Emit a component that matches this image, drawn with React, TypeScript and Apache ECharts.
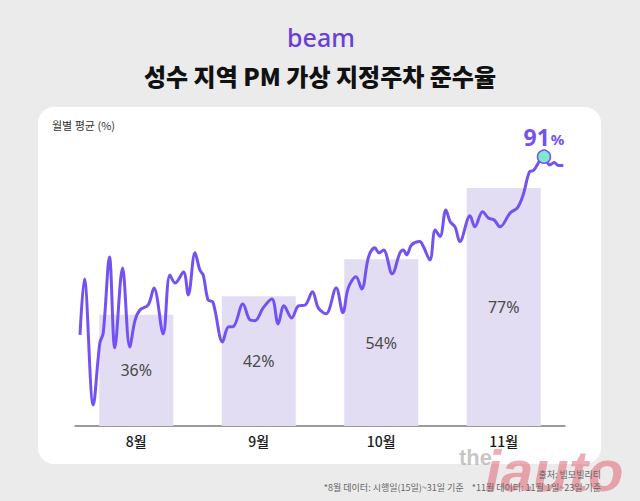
import React, { useEffect, useRef } from "react";
import * as echarts from "echarts";

const months = ["8월", "9월", "10월", "11월"];
const monthlyAvg = [36, 42, 54, 77];

// daily compliance (day index from Aug 15 = 0 to Nov 23 = 100)
const lineDays = [
  0, 0.9, 2.75, 4.1, 4.8, 6.1, 7.2, 8.8, 10.3, 11.4, 12.4, 14.1, 15.3, 17.2, 18.6, 19.7,
  21.4, 22.4, 23.8, 24.8, 25.5, 26.5, 27.5, 29.5, 30.7, 31.7, 33.7, 35.2, 36.2, 37.9,
  39.7, 41.0, 42.2, 43.8, 45.2, 46.6, 48.1, 49.3, 50.9, 53.0, 54.4, 55.5, 57.1, 58.3,
  59.7, 61.0, 61.9, 62.8, 64.6, 66.2, 66.9, 67.6, 68.6, 70.3, 71.0, 72.4, 73.5, 74.5,
  75.7, 76.6, 77.6, 78.6, 80.7, 81.7, 83.3, 84.5, 85.7, 86.9, 89.0, 90.5, 91.7, 93.0,
  93.8, 96.0, 97.2, 98.1, 99.0, 100,
];
const lineValues = [
  30.8, 49.7, 7.1, 28.0, 31.4, 57.1, 26.4, 53.4, 26.7, 35.8, 39.2, 40.9, 46.6, 31.1, 51.0, 48.3,
  52.0, 44.3, 58.5, 52.7, 51.0, 42.6, 41.9, 28.4, 33.5, 33.6, 41.2, 35.8, 35.6, 39.9,
  42.9, 34.5, 40.6, 36.5, 40.6, 40.9, 45.4, 39.9, 37.9, 46.6, 38.3, 46.6, 50.4, 46.3,
  57.1, 60.2, 58.5, 59.5, 51.4, 58.5, 59.5, 57.8, 61.2, 62.3, 60.8, 56.1, 66.2, 64.0,
  73.0, 69.0, 67.3, 62.3, 71.0, 67.3, 72.4, 70.3, 69.6, 67.3, 72.0, 73.7, 78.1, 85.9,
  86.3, 91.0, 88.2, 89.0, 88.0, 88.0,
];

const titleText = "성수 지역 PM 가상 지정주차 준수율";
const unitText = "월별 평균 (%)";
const sourceText = "출처: 빔모빌리티";
const noteText = "*8월 데이터: 시행일(15일)~31일 기준    *11월 데이터: 11월 1일~23일 기준";

const KR = '"Noto Sans CJK KR", "Noto Sans", sans-serif';

export default function App() {
  const ref = useRef<HTMLDivElement>(null);
  useEffect(() => {
    if (!ref.current) return;
    const chart = echarts.init(ref.current, null, { renderer: "svg" });
    const lineData = lineDays.map((d, i) => [d, lineValues[i]]);
    chart.setOption({
      animation: false,
      backgroundColor: "#ebebeb",
      textStyle: { fontFamily: KR },
      graphic: [
        {
          type: "rect",
          z: -10,
          shape: { x: 38, y: 107, width: 563, height: 357, r: 16 },
          style: { fill: "#ffffff" },
        },
        {
          type: "text",
          x: 321,
          y: 37,
          style: {
            text: "beam",
            fontSize: 25,
            fontWeight: 500,
            fontFamily: '"Noto Sans", sans-serif',
            fill: "#6a3fd9",
            textAlign: "center",
            textVerticalAlign: "middle",
          },
        },
        {
          type: "text",
          x: 320,
          y: 75,
          style: {
            text: titleText,
            fontSize: 24,
            fontWeight: 900,
            fontFamily: KR,
            fill: "#111111",
            textAlign: "center",
            textVerticalAlign: "middle",
          },
        },
        {
          type: "text",
          x: 52,
          y: 125,
          style: {
            text: unitText,
            fontSize: 11,
            fontFamily: KR,
            fill: "#333333",
            textAlign: "left",
            textVerticalAlign: "middle",
          },
        },
        {
          type: "text",
          x: 459,
          y: 457,
          z: 50,
          style: {
            text: "the",
            fontSize: 22,
            fontWeight: "bold",
            fontFamily: '"Liberation Sans", sans-serif',
            fill: "rgba(150,150,150,0.55)",
            textAlign: "left",
            textVerticalAlign: "middle",
          },
        },
        {
          type: "text",
          x: 485,
          y: 470,
          z: 50,
          style: {
            text: "iauto",
            fontSize: 58,
            fontWeight: "bold",
            fontStyle: "italic",
            fontFamily: '"Liberation Sans", sans-serif',
            fill: "rgba(226,90,105,0.5)",
            textAlign: "left",
            textVerticalAlign: "middle",
          },
        },
        {
          type: "text",
          x: 601,
          y: 474,
          z: 60,
          style: {
            text: sourceText,
            fontSize: 9,
            fontFamily: KR,
            fill: "#666666",
            textAlign: "right",
            textVerticalAlign: "middle",
          },
        },
        {
          type: "text",
          x: 601,
          y: 487,
          z: 60,
          style: {
            text: noteText,
            fontSize: 9,
            fontFamily: KR,
            fill: "#666666",
            textAlign: "right",
            textVerticalAlign: "middle",
          },
        },
      ],
      grid: [
        { left: 75, right: 75, top: 117, bottom: 75 },
        { left: 80, right: 76.7, top: 117, bottom: 75 },
      ],
      xAxis: [
        {
          type: "category",
          gridIndex: 0,
          data: months,
          axisLine: { lineStyle: { color: "#7a7a7a", width: 1.5 } },
          axisTick: { show: false },
          axisLabel: {
            fontSize: 14,
            fontWeight: 500,
            color: "#1a1a1a",
            margin: 8,
            fontFamily: KR,
          },
        },
        { type: "value", gridIndex: 1, min: 0, max: 100, show: false },
      ],
      yAxis: [
        { type: "value", gridIndex: 0, min: 0, max: 100, show: false, splitLine: { show: false } },
        { type: "value", gridIndex: 1, min: 0, max: 104.4, show: false, splitLine: { show: false } },
      ],
      series: [
        {
          type: "bar",
          xAxisIndex: 0,
          yAxisIndex: 0,
          data: monthlyAvg,
          barWidth: 74,
          itemStyle: { color: "#e2ddf2" },
          label: {
            show: true,
            position: "inside",
            formatter: "{c}%",
            fontSize: 16,
            color: "#4a4a4a",
            fontFamily: '"Noto Sans", sans-serif',
          },
          z: 1,
        },
        {
          type: "line",
          xAxisIndex: 1,
          yAxisIndex: 1,
          data: lineData,
          smooth: 0.35,
          showSymbol: false,
          lineStyle: { color: "#7452f2", width: 3 },
          z: 3,
          markPoint: {
            z: 10,
            symbol: "circle",
            symbolSize: 13,
            itemStyle: { color: "#7ee8cf", borderColor: "#7452f2", borderWidth: 1.5, opacity: 1 },
            label: {
              show: true,
              position: "top",
              distance: 1,
              formatter: "{a|{c}}{b|%}",
              rich: {
                a: { fontSize: 23, fontWeight: "bold", color: "#7452f2", fontFamily: '"Noto Sans", sans-serif' },
                b: { fontSize: 15, fontWeight: "bold", color: "#7452f2", fontFamily: '"Noto Sans", sans-serif', padding: [5, 0, 0, 1] },
              },
            },
            data: [{ type: "max" }],
          },
        },
      ],
    });
    return () => chart.dispose();
  }, []);
  return (
    <div
      ref={ref}
      style={{ position: "absolute", left: 0, top: 0, width: 640, height: 501, background: "#ebebeb" }}
    />
  );
}
